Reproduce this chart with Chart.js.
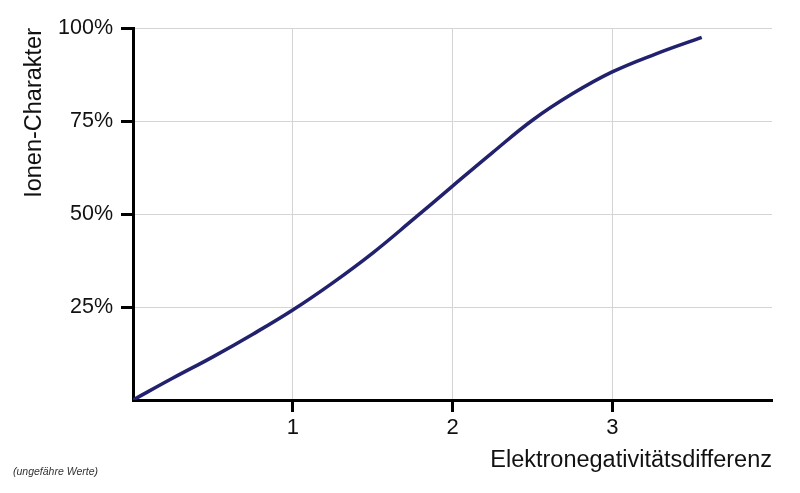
<!DOCTYPE html>
<html>
<head>
<meta charset="utf-8">
<script src="https://cdn.jsdelivr.net/npm/chart.js@4/dist/chart.umd.min.js"></script>
<style>
    html, body { margin: 0; padding: 0; background: #fff; }
    #wrap { width: 800px; height: 493px; position: relative; }
</style>
</head>
<body>
<div id="wrap"><canvas id="ionChart"></canvas></div>
<script>
// Ionen-Charakter vs. Elektronegativitätsdifferenz (ungefähre Werte)
const enDiff = [0, 0.25, 0.5, 0.75, 1, 1.25, 1.5, 1.75, 2, 2.25, 2.5, 2.75, 3, 3.27, 3.56];
const ionicPct = [0, 5.9, 11.6, 17.7, 24.2, 31.5, 39.5, 48.4, 57.5, 66.5, 75.2, 82.3, 88.2, 93, 97.5];
const xTicks = [1, 2, 3];
const yTicks = [25, 50, 75, 100];

const fontFamily = '"Liberation Sans", Arial, sans-serif';

const footNote = {
    id: 'footNote',
    afterDraw(chart) {
        const ctx = chart.ctx;
        ctx.save();
        ctx.font = 'italic 10.5px ' + fontFamily;
        ctx.fillStyle = '#333';
        ctx.textBaseline = 'middle';
        ctx.fillText('(ungefähre Werte)', 13, 472);
        ctx.restore();
    }
};

new Chart(document.getElementById('ionChart'), {
    type: 'line',
    data: {
        datasets: [{
            data: enDiff.map((x, i) => ({ x: x, y: ionicPct[i] })),
            borderColor: '#21216e',
            borderWidth: 3.5,
            pointRadius: 0,
            tension: 0.4,
            fill: false
        }]
    },
    options: {
        responsive: true,
        maintainAspectRatio: false,
        animation: false,
        layout: { padding: { left: 0, right: 28, top: 28, bottom: 0 } },
        plugins: { legend: { display: false }, tooltip: { enabled: false } },
        scales: {
            x: {
                type: 'linear',
                min: 0,
                max: 4,
                afterBuildTicks: s => { s.ticks = xTicks.map(v => ({ value: v })); },
                afterFit: s => { s.height = 93; },
                grid: { color: '#d4d4d4', lineWidth: 1, tickColor: '#000', tickWidth: 3, tickLength: 12 },
                border: { color: '#000', width: 3 },
                ticks: { color: '#111', padding: 3, font: { family: fontFamily, size: 22 } },
                title: {
                    display: true,
                    text: 'Elektronegativitätsdifferenz',
                    align: 'end',
                    color: '#111',
                    padding: { top: 0, bottom: 18 },
                    font: { family: fontFamily, size: 23.5 }
                }
            },
            y: {
                min: 0,
                max: 100,
                afterBuildTicks: s => { s.ticks = yTicks.map(v => ({ value: v })); },
                afterFit: s => { s.width = 133; },
                grid: { color: '#d4d4d4', lineWidth: 1, tickColor: '#000', tickWidth: 3, tickLength: 12 },
                border: { color: '#000', width: 3 },
                ticks: { color: '#111', padding: 8, font: { family: fontFamily, size: 21.5 }, callback: v => v + '%' },
                title: {
                    display: true,
                    text: 'Ionen-Charakter',
                    align: 'end',
                    color: '#111',
                    padding: { top: 20, bottom: 0 },
                    font: { family: fontFamily, size: 23.5 }
                }
            }
        }
    },
    plugins: [footNote]
});
</script>
</body>
</html>
